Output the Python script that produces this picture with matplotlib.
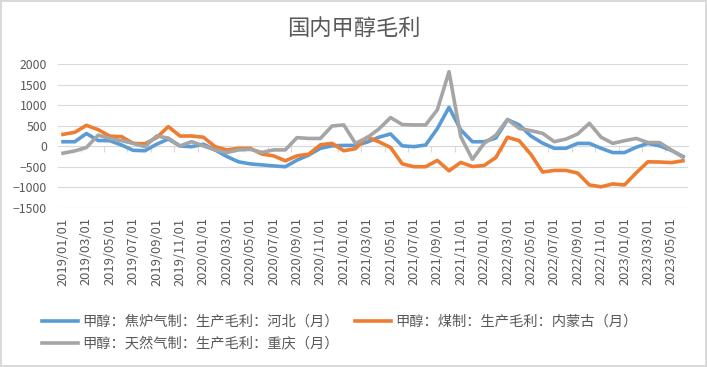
import matplotlib.pyplot as plt
import numpy as np

plt.rcParams['font.family'] = ['Noto Sans CJK SC', 'DejaVu Sans']

# monthly, 2019/01 .. 2023/06
dates = [f"{2019 + m // 12}/{m % 12 + 1:02d}/01" for m in range(54)]

hebei_coke = [110, 110, 310, 140, 135, 30, -100, -110, 50, 175,
              5, -10, 50, -90, -250, -380, -430, -455, -480, -500,
              -340, -215, -50, 10, 20, 20, 100, 220, 300, 10,
              -10, 30, 430, 950, 400, 110, 110, 200, 650, 520,
              250, 75, -50, -50, 70, 70, -50, -155, -155, -25,
              70, 10, -100, -250]
neimeng_coal = [290, 340, 510, 405, 245, 235, 70, 60, 210, 480,
                250, 250, 220, -10, -90, -50, -50, -190, -235, -355,
                -235, -195, 35, 70, -110, -60, 220, 110, -30, -430,
                -500, -500, -345, -600, -395, -495, -470, -275, 220, 135,
                -200, -630, -590, -590, -655, -945, -990, -920, -945, -650,
                -380, -385, -400, -355]
chongqing_gas = [-170, -115, -30, 270, 190, 135, 70, -10, 250, 200,
                 7, 112, 7, -90, -155, -90, -75, -150, -90, -90,
                 210, 190, 190, 495, 520, 70, 210, 420, 700, 530,
                 520, 520, 890, 1820, 235, -320, 70, 270, 655, 435,
                 380, 315, 112, 175, 300, 560, 220, 70, 135, 190,
                 90, 90, -90, -270]

names = ['甲醇：焦炉气制：生产毛利：河北（月）',
         '甲醇：煤制：生产毛利：内蒙古（月）',
         '甲醇：天然气制：生产毛利：重庆（月）']
colors = ['#5B9BD5', '#ED7D31', '#A5A5A5']
txt = '#595959'

x = np.arange(len(dates))

fig = plt.figure(figsize=(7.07, 3.67), dpi=100, edgecolor='#D9D9D9', linewidth=1.5)
ax = fig.add_axes([58 / 707, 159.3 / 367, 630 / 707, 143.4 / 367])

lines = []
for ys, nm, c in zip([hebei_coke, neimeng_coal, chongqing_gas], names, colors):
    ln, = ax.plot(x, ys, color=c, lw=2.6, label=nm, solid_joinstyle='round')
    lines.append(ln)

ax.set_xlim(-0.43, 53.43)
ax.set_ylim(-1500, 2000)
ax.set_yticks(range(-1500, 2001, 500))
ax.yaxis.grid(True, color='#D9D9D9', lw=0.8)
ax.set_axisbelow(True)
for s in ax.spines.values():
    s.set_visible(False)
ax.tick_params(axis='y', length=0, pad=8, labelsize=8.8, labelcolor=txt)

ax.set_xticks(x[::2])
ax.set_xticklabels(dates[::2], rotation=90)
ax.tick_params(axis='x', length=0, pad=7, labelsize=9.3, labelcolor=txt)

# horizontal axis crossing at zero, with small tick marks
zero_ax = ax.secondary_xaxis(1500 / 3500)
zero_ax.set_xticks(np.arange(1.5, 53, 2))
zero_ax.tick_params(length=4, color='#D9D9D9', labelbottom=False, labeltop=False)
for s in zero_ax.spines.values():
    s.set_color('#D9D9D9')

fig.text(0.5, 1 - 28 / 367, '国内甲醇毛利', fontsize=16, color=txt,
         ha='center', va='center')

fig.legend(handles=[lines[0], lines[2], lines[1]], ncol=2, loc='upper left',
           bbox_to_anchor=(42 / 707, 1 - 315 / 367), frameon=False,
           fontsize=10.3, labelcolor=txt, handlelength=2.55, handletextpad=0.28,
           columnspacing=1.1, borderpad=0, borderaxespad=0, labelspacing=0.55)

fig.savefig('out.png', dpi=100)
